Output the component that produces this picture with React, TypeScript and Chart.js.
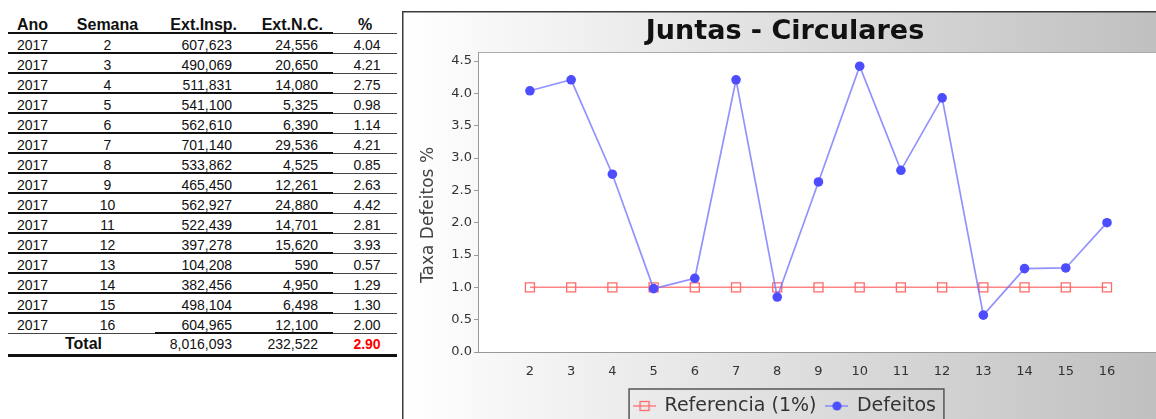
import { useEffect, useRef } from "react";
import { Chart, registerables } from "chart.js";

Chart.register(...registerables);

// ---- data ----
const year = 2017;
const weeks = [2, 3, 4, 5, 6, 7, 8, 9, 10, 11, 12, 13, 14, 15, 16];
const extInsp = [607623, 490069, 511831, 541100, 562610, 701140, 533862, 465450, 562927, 522439, 397278, 104208, 382456, 498104, 604965];
const extNC = [24556, 20650, 14080, 5325, 6390, 29536, 4525, 12261, 24880, 14701, 15620, 590, 4950, 6498, 12100];
const defectPct = [4.04, 4.21, 2.75, 0.98, 1.14, 4.21, 0.85, 2.63, 4.42, 2.81, 3.93, 0.57, 1.29, 1.3, 2.0];
const referencePct = [1, 1, 1, 1, 1, 1, 1, 1, 1, 1, 1, 1, 1, 1, 1];
const totalInsp = 8016093;
const totalNC = 232522;
const totalPct = 2.9;
const yTicks = [0, 0.5, 1, 1.5, 2, 2.5, 3, 3.5, 4, 4.5];

const headers = ["Ano", "Semana", "Ext.Insp.", "Ext.N.C.", "%"];
const chartTitle = "Juntas - Circulares";
const yAxisTitle = "Taxa Defeitos %";
const seriesNames = ["Referencia (1%)", "Defeitos"];

// ---- styling ----
const FONT = "'DejaVu Sans', sans-serif";
const REF_LINE = "rgba(255,110,110,0.85)";
const REF_POINT = "#ff6a6a";
const DEF_LINE = "rgba(110,110,255,0.75)";
const DEF_POINT = "#4d4dff";

const fmt = (n: number) => n.toLocaleString("en-US");

type Col = { left: number; width: number; align: "left" | "center" | "right"; pl: number; pr: number; hpl: number; hpr: number };
const cols: Col[] = [
  { left: 8, width: 54, align: "left", pl: 9, pr: 0, hpl: 9, hpr: 0 },
  { left: 62, width: 93, align: "center", pl: 0, pr: 2, hpl: 0, hpr: 2 },
  { left: 155, width: 85, align: "right", pl: 0, pr: 8, hpl: 0, hpr: 3 },
  { left: 240, width: 93, align: "right", pl: 0, pr: 15, hpl: 0, hpr: 10 },
  { left: 333, width: 64, align: "center", pl: 4, pr: 0, hpl: 0, hpr: 0 },
];

const justify = (a: string) => (a === "left" ? "flex-start" : a === "right" ? "flex-end" : "center");

function Cell(props: {
  col: Col;
  top: number;
  height: number;
  border: string;
  padTop: number;
  header?: boolean;
  children: any;
  style?: any;
  spanTo?: number;
}) {
  const { col, top, height, border, padTop, header, children, style, spanTo } = props;
  const width = spanTo !== undefined ? spanTo - col.left : col.width;
  return (
    <div
      style={{
        position: "absolute",
        left: col.left,
        top,
        width,
        height,
        boxSizing: "border-box",
        borderBottom: border,
        paddingTop: padTop,
        paddingLeft: header ? col.hpl : col.pl,
        paddingRight: header ? col.hpr : col.pr,
        display: "flex",
        alignItems: "center",
        justifyContent: justify(col.align),
        fontFamily: "'Liberation Sans', Arial, sans-serif",
        fontSize: header ? 16 : 14,
        fontWeight: header ? 700 : 400,
        color: "#111",
        whiteSpace: "nowrap",
        lineHeight: 1,
        ...style,
      }}
    >
      {children}
    </div>
  );
}

function DataTable() {
  const thick = "2px solid #111";
  const thin = "1px solid #444";
  const headerTop = 12;
  const rowTop0 = 34;
  const rowH = 20;
  const lastIdx = weeks.length - 1;
  const totalTop = rowTop0 + rowH * weeks.length;
  return (
    <div>
      {headers.map((h, c) => (
        <Cell key={"h" + c} col={cols[c]} top={headerTop} height={22} border={c === 4 ? thin : thick} padTop={5} header>
          {h}
        </Cell>
      ))}
      {weeks.map((w, i) => {
        const top = rowTop0 + rowH * i;
        const last = i === lastIdx;
        const values = [String(year), String(w), fmt(extInsp[i]), fmt(extNC[i]), defectPct[i].toFixed(2)];
        return values.map((v, c) => {
          let border = c === 4 ? thin : thick;
          if (last && (c === 0 || c === 1)) border = thin;
          return (
            <Cell key={"r" + i + "c" + c} col={cols[c]} top={top} height={rowH} border={border} padTop={3}>
              {v}
            </Cell>
          );
        });
      })}
      <Cell
        col={{ ...cols[0], align: "center", pl: 4 }}
        spanTo={cols[2].left}
        top={totalTop}
        height={23}
        border="3px solid #111"
        padTop={0}
        style={{ fontSize: 16, fontWeight: 700 }}
      >
        Total
      </Cell>
      <Cell col={cols[2]} top={totalTop} height={23} border="3px solid #111" padTop={0}>
        {fmt(totalInsp)}
      </Cell>
      <Cell col={cols[3]} top={totalTop} height={23} border="3px solid #111" padTop={0}>
        {fmt(totalNC)}
      </Cell>
      <Cell col={cols[4]} top={totalTop} height={23} border="3px solid #111" padTop={0} style={{ color: "#ff0000", fontWeight: 700 }}>
        {totalPct.toFixed(2)}
      </Cell>
    </div>
  );
}

// Small line+marker swatches used as legend symbols
function legendIcon(kind: "ref" | "def"): HTMLCanvasElement {
  const c = document.createElement("canvas");
  c.width = 23;
  c.height = 14;
  const g = c.getContext("2d")!;
  const cx = 11.5;
  const cy = 7;
  g.lineWidth = 1.5;
  g.strokeStyle = kind === "ref" ? REF_LINE : DEF_LINE;
  g.beginPath();
  g.moveTo(0, cy);
  g.lineTo(23, cy);
  g.stroke();
  if (kind === "ref") {
    g.strokeStyle = REF_POINT;
    g.lineWidth = 1.3;
    g.strokeRect(cx - 4.5, cy - 4.5, 9, 9);
  } else {
    g.fillStyle = DEF_POINT;
    g.beginPath();
    g.arc(cx, cy, 4.6, 0, Math.PI * 2);
    g.fill();
  }
  return c;
}

const panelPlugin = {
  id: "panelDecor",
  beforeDraw(chart: any) {
    const { ctx, width, height, chartArea: a } = chart;
    ctx.save();
    const grad = ctx.createLinearGradient(0, 0, width, 0);
    grad.addColorStop(0, "#ffffff");
    grad.addColorStop(1, "#bdbdbd");
    ctx.fillStyle = grad;
    ctx.fillRect(0, 0, width, height);
    ctx.fillStyle = "#ffffff";
    ctx.fillRect(a.left, a.top, a.right - a.left, a.bottom - a.top);
    ctx.strokeStyle = "#ababab";
    ctx.lineWidth = 1;
    ctx.strokeRect(a.left + 0.5, a.top + 0.5, a.right - a.left, a.bottom - a.top);
    ctx.strokeStyle = "#3c3c3c";
    ctx.lineWidth = 1.5;
    ctx.beginPath();
    ctx.moveTo(0.75, height);
    ctx.lineTo(0.75, 0.75);
    ctx.lineTo(width, 0.75);
    ctx.stroke();
    ctx.restore();
  },
  afterDraw(chart: any) {
    const { ctx } = chart;
    // frame around the legend
    const boxes = chart.legend?.legendHitBoxes;
    if (boxes && boxes.length) {
      const first = boxes[0];
      const last = boxes[boxes.length - 1];
      const left = first.left - 5;
      const right = last.left + last.width + 8;
      const top = first.top - 7.5;
      ctx.save();
      ctx.strokeStyle = "#555";
      ctx.lineWidth = 1.5;
      ctx.strokeRect(left, top, right - left, 50);
      ctx.restore();
    }
    // vertical axis title
    const a = chart.chartArea;
    ctx.save();
    ctx.translate(27, (a.top + a.bottom) / 2 + 13);
    ctx.rotate(-Math.PI / 2);
    ctx.font = `17px ${FONT}`;
    ctx.fillStyle = "#444";
    ctx.textAlign = "center";
    ctx.textBaseline = "middle";
    ctx.fillText(yAxisTitle, 0, 0);
    ctx.restore();
  },
};

export default function App() {
  const canvasRef = useRef<HTMLCanvasElement>(null);

  useEffect(() => {
    const canvas = canvasRef.current;
    if (!canvas) return;
    const icons = [legendIcon("ref"), legendIcon("def")];
    const chart = new Chart(canvas, {
      type: "line",
      data: {
        datasets: [
          {
            label: seriesNames[0],
            data: weeks.map((w, i) => ({ x: w, y: referencePct[i] })),
            borderColor: REF_LINE,
            borderWidth: 1.5,
            pointStyle: "rect",
            pointRadius: 6.4,
            pointBorderColor: REF_POINT,
            pointBorderWidth: 1.3,
            pointBackgroundColor: "rgba(255,255,255,0)",
            fill: false,
            tension: 0,
            order: 1,
          },
          {
            label: seriesNames[1],
            data: weeks.map((w, i) => ({ x: w, y: defectPct[i] })),
            borderColor: DEF_LINE,
            borderWidth: 1.7,
            pointStyle: "circle",
            pointRadius: 4.8,
            pointBorderWidth: 0,
            pointBackgroundColor: DEF_POINT,
            pointBorderColor: DEF_POINT,
            fill: false,
            tension: 0,
            order: 0,
          },
        ],
      },
      options: {
        responsive: false,
        animation: false,
        devicePixelRatio: 1,
        layout: { padding: { top: 0, left: 0, right: 24, bottom: 5.5 } },
        scales: {
          x: {
            type: "linear",
            min: 0.74,
            max: 17.48,
            grid: { display: false },
            border: { display: true, color: "#999", width: 1 },
            ticks: {
              font: { family: FONT, size: 13 },
              color: "#333",
              padding: 4,
              autoSkip: false,
              maxRotation: 0,
              callback: (v: any) => String(v),
            },
            afterBuildTicks: (s: any) => {
              s.ticks = weeks.map((w) => ({ value: w }));
            },
            afterFit: (s: any) => {
              s.height = 34.5;
            },
          },
          y: {
            type: "linear",
            min: 0,
            max: 4.64,
            grid: { drawOnChartArea: false, drawTicks: true, tickLength: 4, color: "#999" },
            border: { display: true, color: "#999", width: 1 },
            ticks: {
              font: { family: FONT, size: 13 },
              color: "#333",
              padding: 2,
              callback: (v: any) => Number(v).toFixed(1),
            },
            afterBuildTicks: (s: any) => {
              s.ticks = yTicks.map((v) => ({ value: v }));
            },
            afterFit: (s: any) => {
              s.width = 76;
            },
          },
        },
        plugins: {
          tooltip: { enabled: false },
          title: {
            display: true,
            text: chartTitle,
            color: "#111",
            font: { family: FONT, size: 27, weight: "bold" },
            padding: { top: 4.5, bottom: 4.1 },
          },
          legend: {
            display: true,
            position: "bottom",
            align: "center",
            labels: {
              usePointStyle: true,
              pointStyleWidth: 21,
              boxHeight: 18,
              padding: 10,
              color: "#333",
              font: { family: FONT, size: 19 },
              generateLabels: (ch: any) => {
                const items = (Chart.defaults.plugins.legend.labels as any).generateLabels(ch);
                return items.map((it: any) => ({ ...it, pointStyle: icons[it.datasetIndex], fontColor: "#333" }));
              },
              sort: (a: any, b: any) => a.datasetIndex - b.datasetIndex,
            },
          },
        },
      } as any,
      plugins: [panelPlugin],
    });
    return () => chart.destroy();
  }, []);

  return (
    <div
      style={{
        position: "fixed",
        left: 0,
        top: 0,
        width: 1156,
        height: 419,
        overflow: "hidden",
        background: "#fff",
      }}
    >
      <DataTable />
      <canvas
        ref={canvasRef}
        width={790}
        height={420}
        style={{ position: "absolute", left: 402, top: 11, width: 790, height: 420 }}
      />
    </div>
  );
}
